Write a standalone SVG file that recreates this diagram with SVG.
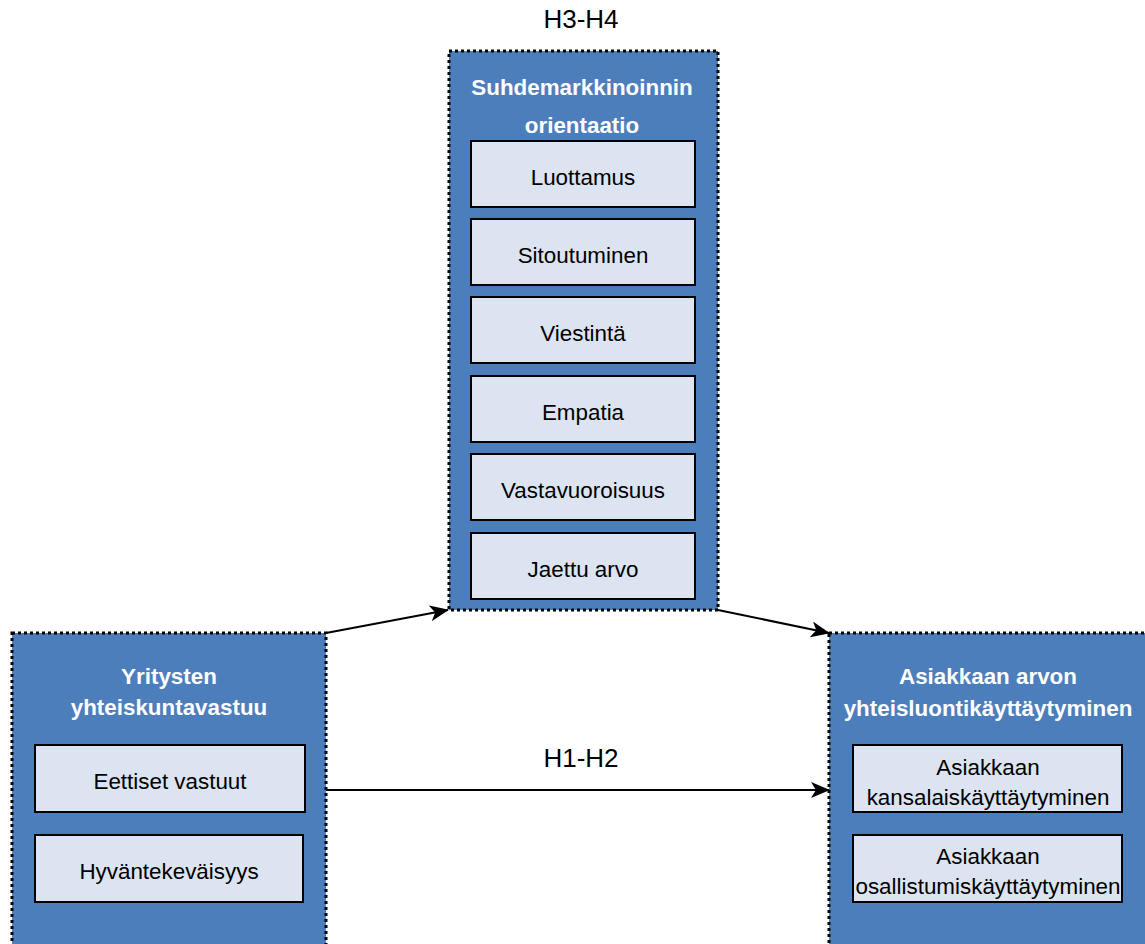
<svg xmlns="http://www.w3.org/2000/svg" width="1145" height="944" viewBox="0 0 1145 944">
<style>
.cont{fill:#4d7ebc;stroke:#000;stroke-width:3;stroke-dasharray:3 3}
.item{fill:#dbe4f0;stroke:#000;stroke-width:2}
.title{font-family:"Liberation Sans",Arial,sans-serif;font-size:22.4px;font-weight:bold;fill:#fff;text-anchor:middle}
.lbl{font-family:"Liberation Sans",Arial,sans-serif;font-size:22.4px;fill:#000;text-anchor:middle}
.hl{font-family:"Liberation Sans",Arial,sans-serif;font-size:26px;fill:#000;text-anchor:middle}
.edge{stroke:#000;stroke-width:2;fill:none;marker-end:url(#arr)}
</style>
<defs>
<marker id="arr" viewBox="0 0 19 16" refX="18" refY="8" markerWidth="19" markerHeight="16" markerUnits="userSpaceOnUse" orient="auto">
<path d="M0,0 L19,8 L0,16 L5,8 Z" fill="#000"/>
</marker>
</defs>
<rect width="1145" height="944" fill="#fff"/>
<text class="hl" x="581" y="28">H3-H4</text>
<g id="srm">
<rect class="cont" x="449" y="51" width="269" height="559"/>
<text class="title" x="582" y="95">Suhdemarkkinoinnin</text>
<text class="title" x="582" y="133">orientaatio</text>
<g id="luottamus"><rect class="item" x="471" y="141" width="224" height="66"/><text class="lbl" x="583" y="185">Luottamus</text></g>
<g id="sitoutuminen"><rect class="item" x="471" y="219" width="224" height="66"/><text class="lbl" x="583" y="263">Sitoutuminen</text></g>
<g id="viestinta"><rect class="item" x="471" y="297" width="224" height="66"/><text class="lbl" x="583" y="341">Viestintä</text></g>
<g id="empatia"><rect class="item" x="471" y="376" width="224" height="66"/><text class="lbl" x="583" y="420">Empatia</text></g>
<g id="vastavuoroisuus"><rect class="item" x="471" y="454" width="224" height="66"/><text class="lbl" x="583" y="498">Vastavuoroisuus</text></g>
<g id="jaettu"><rect class="item" x="471" y="533" width="224" height="66"/><text class="lbl" x="583" y="577">Jaettu arvo</text></g>
</g>
<g id="yvastuu">
<rect class="cont" x="12" y="633" width="314" height="320"/>
<text class="title" x="169" y="684">Yritysten</text>
<text class="title" x="169" y="715">yhteiskuntavastuu</text>
<g id="eettiset"><rect class="item" x="35" y="745" width="270" height="67" stroke-width="1.5"/><text class="lbl" x="170" y="789">Eettiset vastuut</text></g>
<g id="hyvantek"><rect class="item" x="35" y="835" width="268" height="67"/><text class="lbl" x="169" y="879">Hyväntekeväisyys</text></g>
</g>
<g id="arvo">
<rect class="cont" x="829" y="633" width="330" height="320"/>
<text class="title" x="988" y="684">Asiakkaan arvon</text>
<text class="title" x="988" y="716">yhteisluontikäyttäytyminen</text>
<g id="kansalais"><rect class="item" x="853" y="745" width="269" height="67"/><text class="lbl" x="988" y="775">Asiakkaan</text><text class="lbl" x="988" y="805">kansalaiskäyttäytyminen</text></g>
<g id="osallistumis"><rect class="item" x="853" y="835" width="269" height="67"/><text class="lbl" x="988" y="864">Asiakkaan</text><text class="lbl" x="988" y="894">osallistumiskäyttäytyminen</text></g>
</g>
<g id="connectors">
<line class="edge" x1="326" y1="633" x2="448" y2="610"/>
<line class="edge" x1="718" y1="610" x2="829" y2="633"/>
<line class="edge" x1="326" y1="790" x2="829" y2="790"/>
<text class="hl" x="581" y="767">H1-H2</text>
</g>
</svg>
